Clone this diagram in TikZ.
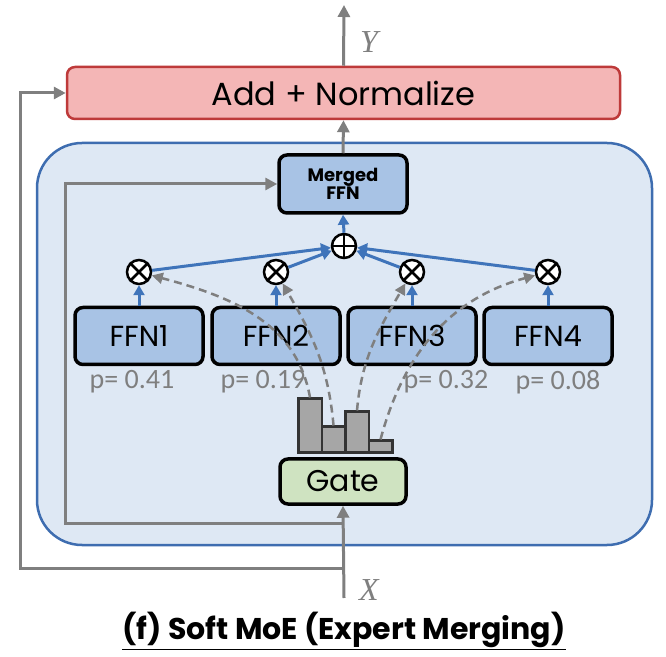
\documentclass[tikz,border=0pt]{standalone}
\usepackage{fontspec}
\setmainfont{Poppins}
\newfontfamily\pfont{Carlito}
\newfontfamily\vfont{Liberation Serif}
\usepackage{xcolor}
\usetikzlibrary{arrows.meta, positioning}

\definecolor{addfill}{HTML}{F4B6B6}
\definecolor{adddraw}{HTML}{BE3A3A}
\definecolor{moefill}{HTML}{DEE8F4}
\definecolor{moedraw}{HTML}{3E6DB0}
\definecolor{ffnfill}{HTML}{A8C3E5}
\definecolor{gatefill}{HTML}{CFE3C1}
\definecolor{flow}{HTML}{7F7F7F}
\definecolor{mix}{HTML}{3F74BA}

\begin{document}
\begin{tikzpicture}[
  x=1pt, y=1pt,
  >={Triangle[length=12pt,width=12pt]},
  box/.style={draw=black, line width=3.5pt, rounded corners=8pt, fill=ffnfill,
              inner sep=0pt, font=\fontsize{29}{29}\selectfont},
  flowline/.style={->, line width=3pt, flow},
  mixline/.style={->, line width=3pt, mix, >={Triangle[length=10pt,width=11pt]}},
  gateline/.style={->, line width=2.5pt, flow, dash pattern=on 8pt off 5pt,
                   >={Triangle[length=11pt,width=11pt]}},
  op/.style={circle, draw=black, line width=2.5pt, fill=white,
             minimum size=24pt, inner sep=0pt},
  bar/.style={draw=black!80, line width=2.5pt, fill=black!35,
              minimum width=23.5pt, inner sep=0pt, anchor=south west},
  prob/.style={font=\pfont\fontsize{28}{28}\selectfont, text=flow},
  var/.style={text=flow, font=\vfont\itshape\fontsize{32}{32}\selectfont}
]
  \useasboundingbox (0,0) rectangle (666,656);

  % expert block
  \node[draw=moedraw, line width=2.5pt, fill=moefill, rounded corners=45pt,
        minimum width=615pt, minimum height=402pt] (moe) at (344.5,312) {};

  \node[draw=adddraw, line width=2.5pt, fill=addfill, rounded corners=8pt,
        minimum width=553pt, minimum height=52pt,
        font=\fontsize{32}{32}\selectfont] (add) at (343.5,563) {Add + Normalize};

  \node[box, minimum width=128pt, minimum height=58pt, align=center,
        font=\bfseries\fontsize{18}{18}\selectfont] (merged) at (343,472)
        {Merged\\FFN};

  \node[box, fill=gatefill, minimum width=126pt, minimum height=45pt,
        font=\fontsize{30}{30}\selectfont] (gate) at (343,174.5) {Gate};

  \node[op] (sum) at (344,410) {};
  \draw[line width=2.5pt] (sum.north) -- (sum.south) (sum.east) -- (sum.west);

  \foreach \i/\x/\p/\px in {1/139/0.41/132, 2/276/0.19/263, 3/412/0.32/446, 4/548/0.08/558} {
    \node[box, minimum width=128pt, minimum height=57pt] (ffn\i) at (\x,320) {FFN\i};
    \node[op] (m\i) at (\x,384) {};
    \draw[line width=2.5pt] (m\i.45) -- (m\i.225) (m\i.135) -- (m\i.315);
    \node[prob] (p\i) at (\px,274) {p= \p};
    \draw[mixline] (ffn\i.north) -- (m\i.south);
    \draw[mixline] (m\i) -- (sum);
  }
  \draw[mixline] (sum.north) -- (merged.south);

  % gate scores
  \foreach \i/\x/\h in {1/297/54, 2/320.5/26, 3/344/41, 4/367.5/12}
    \node[bar, minimum height=\h pt] (b\i) at (\x,202) {};

  \draw[gateline] (b1.north) to[out=100, in=-15] (m1.-15);
  \draw[gateline] (b2.north) to[out=95, in=-60] (m2.-60);
  \draw[gateline] (b3.north) to[out=85, in=240] (m3.240);
  \draw[gateline] (b4.north) to[out=75, in=195] (m4.195);

  % input, skips and output
  \coordinate (x) at (344,58);
  \coordinate (y) at (344,651);
  \draw[flowline] (x) -- (gate.south);
  \draw[flowline] (344,133) -- (65,133) |- (merged.west);
  \draw[flowline] (344,88) -- (20,88) |- (add.west);
  \draw[flowline] (merged.north) -- (add.south);
  \draw[flowline] (add.north) -- (y);
  \node[var] (xlab) at (369,66) {X};
  \node[var] (ylab) at (369,614) {Y};

  \node[font=\bfseries\fontsize{30}{30}\selectfont] (title) at (344,25)
        {\underline{(f) Soft MoE (Expert Merging)}};
\end{tikzpicture}
\end{document}
